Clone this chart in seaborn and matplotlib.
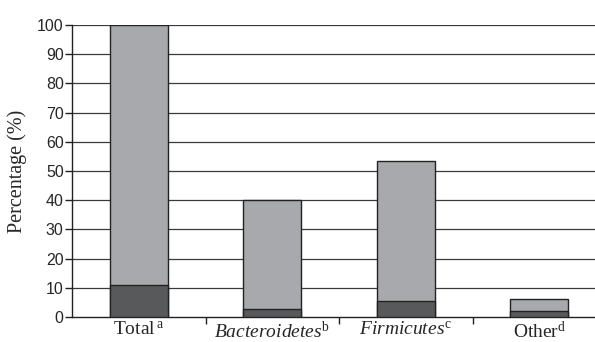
import matplotlib
matplotlib.use("Agg")
import matplotlib.pyplot as plt
import seaborn as sns
import pandas as pd

# Percentage of sequences per group (total height) and the subset share (dark segment)
categories = ["Total", "Bacteroidetes", "Firmicutes", "Other"]
total_pct = [100.0, 40.0, 53.5, 6.3]
subset_pct = [11.0, 2.8, 5.5, 2.2]
tick_labels = [r"Total$\,^{\mathrm{a}}$",
               r"$\mathit{Bacteroidetes}^{\mathrm{b}}$",
               r"$\mathit{Firmicutes}^{\mathrm{c}}$",
               r"Other$^{\mathrm{d}}$"]
y_ticks = list(range(0, 101, 10))

sns.set_theme(style="white")
plt.rcParams["font.family"] = ["Liberation Serif", "DejaVu Serif"]
plt.rcParams["mathtext.fontset"] = "custom"
plt.rcParams["mathtext.rm"] = "Liberation Serif"
plt.rcParams["mathtext.it"] = "Liberation Serif:italic"

df = pd.DataFrame({"group": categories, "total": total_pct, "subset": subset_pct})

fig = plt.figure(figsize=(5.95, 3.42), dpi=100)
ax = fig.add_axes([72 / 595, 25 / 342, 534 / 595, 292 / 342])

for y in y_ticks[1:]:
    ax.axhline(y, color="#3a3a3a", lw=0.9, zorder=0)

bw = 0.435
sns.barplot(data=df, x="group", y="total", color="#a7a9ac", saturation=1,
            width=bw, edgecolor="#222222", linewidth=1.0, ax=ax, zorder=2)
sns.barplot(data=df, x="group", y="subset", color="#58595b", saturation=1,
            width=bw, edgecolor="#222222", linewidth=1.0, ax=ax, zorder=3)

ax.set_xlim(-0.5, 3.5)
ax.set_ylim(0, 100)
ax.set_yticks(y_ticks)
ax.set_yticklabels([str(v) for v in y_ticks], family="Liberation Sans", fontsize=11.5)
ax.set_xticks([0.5, 1.5, 2.5])
ax.set_xticklabels([])
ax.set_xticks(range(len(categories)), minor=True)
ax.set_xticklabels(tick_labels, minor=True, fontsize=14)
ax.tick_params(axis="x", which="minor", length=0, pad=3)
ax.tick_params(axis="x", which="major", direction="out", length=5, width=1, color="#222222", bottom=True)
ax.tick_params(axis="y", direction="out", length=5, width=1, color="#222222", left=True, pad=1)

for side in ["top", "right"]:
    ax.spines[side].set_visible(False)
for side in ["left", "bottom"]:
    ax.spines[side].set_color("#222222")
    ax.spines[side].set_linewidth(1.0)

ax.set_xlabel("")
ax.set_ylabel("Percentage (%)", fontsize=14.5, labelpad=7)

fig.savefig("out.png", dpi=100)
